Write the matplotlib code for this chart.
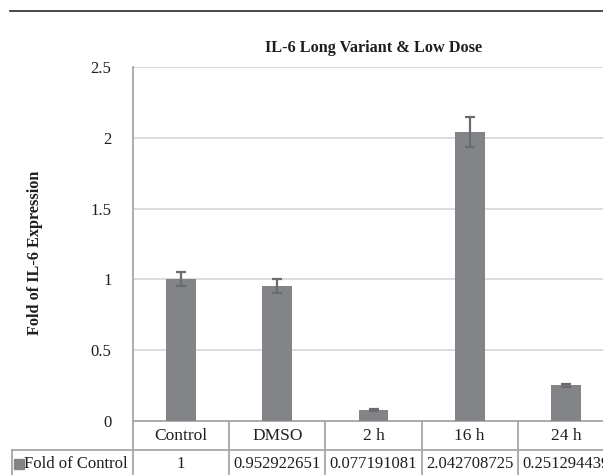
import matplotlib.pyplot as plt
from matplotlib.lines import Line2D
import numpy as np

# chart data
categories = ['Control', 'DMSO', '2 h', '16 h', '24 h']
fold_values = [1, 0.952922651, 0.077191081, 2.042708725, 0.251294439]
fold_errors = [0.05, 0.05, 0.006, 0.105, 0.012]
series_name = 'Fold of Control'
y_ticks = [0, 0.5, 1, 1.5, 2, 2.5]

plt.rcParams['font.family'] = ['Liberation Serif', 'DejaVu Serif']

W, H = 603, 475
fig = plt.figure(figsize=(W / 100, H / 100), dpi=100)

# axes run past the right edge, the original is cropped there
ax_l, ax_r, ax_t, ax_b = 133, 614, 67, 421
ax = fig.add_axes([ax_l / W, 1 - ax_b / H, (ax_r - ax_l) / W, (ax_b - ax_t) / H])

bar_col = '#838487'
err_col = '#6b6c6f'
line_col = '#a6a6a6'
txt_col = '#1e1e1e'

x = np.arange(len(categories))
ax.bar(x, fold_values, width=0.31, color=bar_col, zorder=3)
ax.errorbar(x, fold_values, yerr=fold_errors, fmt='none', ecolor=err_col,
            elinewidth=1.6, capsize=3.5, capthick=1.6, zorder=4)

ax.set_xlim(-0.5, len(categories) - 0.5)
ax.set_ylim(0, 2.5)
ax.set_yticks(y_ticks)
ax.set_yticklabels([f'{t:g}' for t in y_ticks], fontsize=12, color=txt_col)
ax.yaxis.grid(True, color='#d9d9d9', lw=1.3, zorder=0)
ax.tick_params(left=False, bottom=False, labelbottom=False, pad=12)
for s in ['top', 'right']:
    ax.spines[s].set_visible(False)
ax.spines['left'].set_color(line_col)
ax.spines['left'].set_linewidth(1.3)
ax.spines['bottom'].set_color(line_col)
ax.spines['bottom'].set_linewidth(1.3)

ax.text(0.5, 1 + 19 / (ax_b - ax_t), 'IL-6 Long Variant & Low Dose',
        transform=ax.transAxes, ha='center', va='center',
        fontsize=11.7, fontweight='bold', color=txt_col)
fig.text(35 / W, 1 - 253 / H, 'Fold of IL-6 Expression', rotation=90,
         ha='center', va='center', fontsize=11.7, fontweight='bold', color=txt_col)

# data table under the axis
rh = 29 / (ax_b - ax_t)
xt = ax.get_xaxis_transform()
for b in np.arange(len(categories) + 1) - 0.5:
    ax.add_line(Line2D([b, b], [0, -2.5 * rh], transform=xt, color=line_col,
                       lw=1.3, clip_on=False))
for i, (cat, v) in enumerate(zip(categories, fold_values)):
    ax.text(i, -rh / 2, cat, transform=xt, ha='center', va='center',
            fontsize=12.5, color=txt_col)
    ax.text(i, -1.5 * rh, f'{v}', transform=xt, ha='center', va='center',
            fontsize=12, color=txt_col)

sep_y = 1 - 450 / H
fig.add_artist(Line2D([12 / W, 1], [sep_y, sep_y], color=line_col, lw=1.3))
fig.add_artist(Line2D([12 / W, 12 / W], [sep_y, 0], color=line_col, lw=1.3))
fig.add_artist(Line2D([18.5 / W], [1 - 464 / H], marker='s', markersize=7,
                      color=bar_col, lw=0))
fig.text(24 / W, 1 - 464 / H, series_name, ha='left', va='center',
         fontsize=12, color=txt_col)

# rule at the very top
fig.add_artist(Line2D([10 / W, 1], [1 - 11 / H, 1 - 11 / H], color='#2a2a2a', lw=1.2))

fig.savefig('out.png', dpi=100)
